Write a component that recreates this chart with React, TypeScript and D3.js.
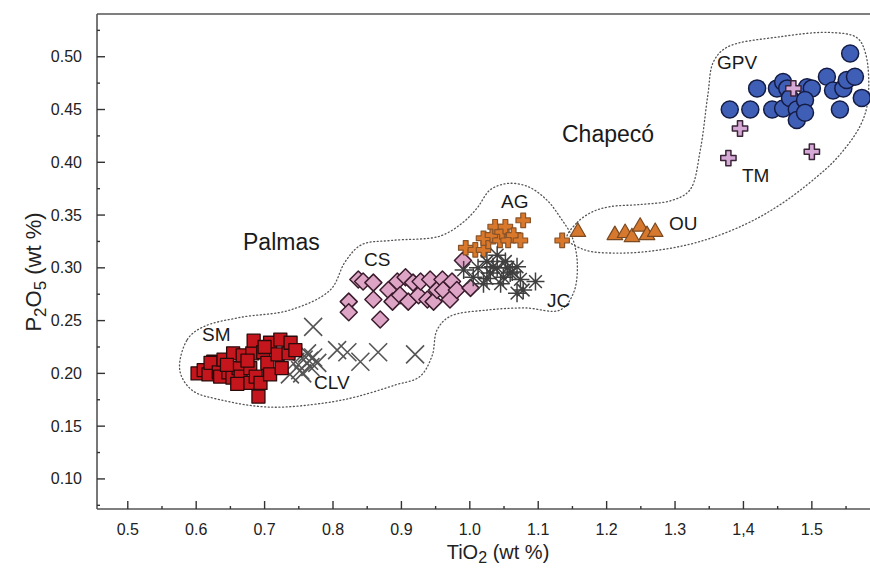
import React from 'react';
import * as d3 from 'd3';

// TiO2 vs P2O5 — Palmas / Chapecó groups
const smTi = [0.602, 0.611, 0.618, 0.625, 0.621, 0.633, 0.635, 0.640, 0.647, 0.653, 0.654, 0.662, 0.665, 0.668, 0.679, 0.679, 0.682, 0.684, 0.687, 0.691, 0.694, 0.698, 0.704, 0.708, 0.708, 0.719, 0.723, 0.735, 0.738, 0.645, 0.675, 0.660, 0.700, 0.725, 0.745];
const smP = [0.200, 0.203, 0.199, 0.211, 0.210, 0.201, 0.197, 0.213, 0.201, 0.196, 0.219, 0.205, 0.197, 0.217, 0.205, 0.191, 0.219, 0.231, 0.197, 0.178, 0.191, 0.220, 0.210, 0.229, 0.199, 0.218, 0.232, 0.219, 0.229, 0.208, 0.212, 0.190, 0.225, 0.205, 0.222];

const clvTi = [0.771, 0.806, 0.821, 0.840, 0.866, 0.920, 0.757, 0.767, 0.752, 0.737, 0.762, 0.771, 0.777, 0.745, 0.755, 0.765];
const clvP = [0.244, 0.222, 0.220, 0.211, 0.220, 0.218, 0.213, 0.206, 0.203, 0.199, 0.219, 0.215, 0.210, 0.211, 0.200, 0.212];

const csTi = [0.823, 0.823, 0.859, 0.869, 0.837, 0.844, 0.859, 0.881, 0.887, 0.894, 0.898, 0.906, 0.910, 0.917, 0.925, 0.928, 0.938, 0.942, 0.947, 0.952, 0.960, 0.961, 0.971, 0.974, 0.981, 0.990, 1.001];
const csP = [0.268, 0.258, 0.270, 0.251, 0.289, 0.287, 0.286, 0.279, 0.268, 0.287, 0.274, 0.291, 0.268, 0.286, 0.274, 0.287, 0.270, 0.289, 0.268, 0.279, 0.289, 0.279, 0.270, 0.287, 0.279, 0.307, 0.281];

const agTi = [0.994, 1.008, 1.020, 1.027, 1.020, 1.033, 1.037, 1.044, 1.047, 1.052, 1.056, 1.064, 1.074, 1.078, 1.135];
const agP = [0.319, 0.317, 0.317, 0.325, 0.328, 0.331, 0.339, 0.326, 0.334, 0.339, 0.326, 0.331, 0.326, 0.345, 0.326];

const jcTi = [0.991, 1.005, 1.012, 1.025, 1.025, 1.034, 1.040, 1.049, 1.052, 1.059, 1.062, 1.069, 1.074, 1.069, 1.078, 1.096, 1.045, 1.030, 1.055, 1.020, 1.040];
const jcP = [0.298, 0.291, 0.300, 0.306, 0.290, 0.301, 0.312, 0.291, 0.306, 0.295, 0.296, 0.301, 0.289, 0.276, 0.279, 0.287, 0.285, 0.295, 0.300, 0.285, 0.300];

const ouTi = [1.158, 1.212, 1.227, 1.237, 1.249, 1.259, 1.271];
const ouP = [0.334, 0.331, 0.333, 0.329, 0.339, 0.331, 0.334];

const gpvTi = [1.556, 1.420, 1.449, 1.458, 1.464, 1.493, 1.500, 1.522, 1.531, 1.546, 1.551, 1.563, 1.380, 1.410, 1.442, 1.458, 1.468, 1.478, 1.490, 1.478, 1.490, 1.541, 1.573];
const gpvP = [0.503, 0.470, 0.470, 0.476, 0.470, 0.471, 0.470, 0.481, 0.468, 0.470, 0.478, 0.481, 0.450, 0.450, 0.450, 0.451, 0.461, 0.450, 0.459, 0.440, 0.447, 0.450, 0.461];

const tmTi = [1.395, 1.378, 1.500, 1.473];
const tmP = [0.432, 0.404, 0.410, 0.470];

// dotted envelopes (data units)
const palmasEnvTi = [0.576, 0.587, 0.610, 0.664, 0.737, 0.796, 0.818, 0.842, 0.886, 0.956, 0.990, 1.011, 1.030, 1.056, 1.085, 1.113, 1.133, 1.149, 1.157, 1.152, 1.132, 1.081, 1.025, 0.971, 0.952, 0.945, 0.927, 0.891, 0.835, 0.788, 0.708, 0.635, 0.594];
const palmasEnvP = [0.203, 0.232, 0.244, 0.253, 0.260, 0.279, 0.306, 0.322, 0.326, 0.330, 0.343, 0.357, 0.374, 0.380, 0.377, 0.364, 0.347, 0.330, 0.306, 0.277, 0.260, 0.262, 0.260, 0.254, 0.241, 0.217, 0.197, 0.189, 0.178, 0.172, 0.168, 0.175, 0.184];
const chapecoEnvTi = [1.142, 1.157, 1.179, 1.205, 1.249, 1.296, 1.322, 1.337, 1.348, 1.356, 1.376, 1.454, 1.527, 1.566, 1.579, 1.582, 1.571, 1.538, 1.505, 1.454, 1.402, 1.337, 1.278, 1.220, 1.168];
const chapecoEnvP = [0.328, 0.343, 0.353, 0.358, 0.360, 0.364, 0.374, 0.412, 0.464, 0.495, 0.509, 0.519, 0.523, 0.518, 0.502, 0.459, 0.435, 0.405, 0.385, 0.360, 0.341, 0.325, 0.317, 0.314, 0.317];

const xTicks = [0.5, 0.6, 0.7, 0.8, 0.9, 1.0, 1.1, 1.2, 1.3, 1.4, 1.5];
const xTickLabels = ['0.5', '0.6', '0.7', '0.8', '0.9', '1.0', '1.1', '1.2', '1.3', '1,4', '1.5'];
const xMinor = [0.55, 0.65, 0.75, 0.85, 0.95, 1.05, 1.15, 1.25, 1.35, 1.45, 1.55];
const yTicks = [0.10, 0.15, 0.20, 0.25, 0.30, 0.35, 0.40, 0.45, 0.50];
const yMinor = [0.075, 0.125, 0.175, 0.225, 0.275, 0.325, 0.375, 0.425, 0.475, 0.525];

const W = 870;
const H = 569;
const left = 97;
const top = 14;
const bottom = 509;
const font = 'Arial, "Liberation Sans", sans-serif';

const x = d3.scaleLinear().domain([0.455, 1.585]).range([left, W]);
const y = d3.scaleLinear().domain([0.0715, 0.5405]).range([bottom, top]);

const zip = (a: number[], b: number[]) => a.map((v, i) => [v, b[i]] as [number, number]);

const squarePath = (s: number) => `M${-s},${-s}h${2 * s}v${2 * s}h${-2 * s}Z`;
const diamondPath = (s: number) => `M0,${-s}L${s},0L0,${s}L${-s},0Z`;
const timesPath = (s: number) => `M${-s},${-s}L${s},${s}M${-s},${s}L${s},${-s}`;
const asteriskPath = (s: number) => {
  const d = s * 0.707;
  return `M0,${-s}V${s}M${-s},0H${s}M${-d},${-d}L${d},${d}M${-d},${d}L${d},${-d}`;
};
const crossPath = d3.symbol(d3.symbolCross, 130)() as string;
const crossSmall = d3.symbol(d3.symbolCross, 115)() as string;
const trianglePath = d3.symbol(d3.symbolTriangle, 105)() as string;

const envLine = d3
  .line<[number, number]>()
  .x(d => x(d[0]))
  .y(d => y(d[1]))
  .curve(d3.curveCatmullRomClosed.alpha(0.5));

const Marks = ({ pts, d, fill, stroke, sw }: { pts: [number, number][]; d: string; fill: string; stroke: string; sw: number }) => (
  <g>
    {pts.map((p, i) => (
      <path key={i} d={d} transform={`translate(${x(p[0])},${y(p[1])})`} fill={fill} stroke={stroke} strokeWidth={sw} strokeLinejoin="round" />
    ))}
  </g>
);

const Label = ({ tx, ty, text, size = 19 }: { tx: number; ty: number; text: string; size?: number }) => (
  <text x={tx} y={ty} fontSize={size} fontFamily={font} fill="#1a1a1a">
    {text}
  </text>
);

export default function App() {
  return (
    <div>
      <style>{`body{margin:0}`}</style>
      <svg width={W} height={H} style={{ display: 'block', background: '#fff' }}>
        {/* envelopes */}
        <path d={envLine(zip(palmasEnvTi, palmasEnvP)) as string} fill="none" stroke="#555" strokeWidth={1.3} strokeDasharray="1 2.6" strokeLinecap="round" />
        <path d={envLine(zip(chapecoEnvTi, chapecoEnvP)) as string} fill="none" stroke="#555" strokeWidth={1.3} strokeDasharray="1 2.6" strokeLinecap="round" />

        {/* points */}
        <Marks pts={zip(clvTi, clvP)} d={timesPath(9)} fill="none" stroke="#555" sw={1.6} />
        <Marks pts={zip(smTi, smP)} d={squarePath(6.5)} fill="#c4161c" stroke="#2a0a0a" sw={1.3} />
        <Marks pts={zip(csTi, csP)} d={diamondPath(8.5)} fill="#dea4c6" stroke="#3a1c2c" sw={1.5} />
        <Marks pts={zip(agTi, agP)} d={crossSmall} fill="#d9772b" stroke="#8a5428" sw={1.2} />
        <Marks pts={zip(jcTi, jcP)} d={asteriskPath(9)} fill="none" stroke="#3f3f3f" sw={1.5} />
        <Marks pts={zip(ouTi, ouP)} d={trianglePath} fill="#d6782e" stroke="#7a4a22" sw={1.2} />
        <Marks pts={zip(gpvTi, gpvP)} d="M8.5,0A8.5,8.5,0,1,1,-8.5,0A8.5,8.5,0,1,1,8.5,0Z" fill="#3f5fb7" stroke="#141c45" sw={1.5} />
        <Marks pts={zip(tmTi, tmP)} d={crossPath} fill="#d6a8d6" stroke="#3a2638" sw={1.5} />

        {/* group labels */}
        <Label tx={243} ty={250} text="Palmas" size={23} />
        <Label tx={562} ty={142} text="Chapecó" size={23} />
        <Label tx={202} ty={341} text="SM" />
        <Label tx={314} ty={389} text="CLV" />
        <Label tx={364} ty={266} text="CS" />
        <Label tx={501} ty={208} text="AG" />
        <Label tx={547} ty={307} text="JC" />
        <Label tx={669} ty={230} text="OU" />
        <Label tx={717} ty={69} text="GPV" />
        <Label tx={742} ty={182} text="TM" />

        {/* frame */}
        <g stroke="#555" strokeWidth={1.6} fill="none">
          <line x1={left} y1={top} x2={W} y2={top} />
          <line x1={left} y1={top} x2={left} y2={bottom} />
          <line x1={left} y1={bottom} x2={W} y2={bottom} />
        </g>

        {/* ticks, pointing inward */}
        <g stroke="#333" strokeWidth={1.4}>
          {xTicks.map(t => (
            <line key={'xt' + t} x1={x(t)} x2={x(t)} y1={bottom} y2={bottom - 8} />
          ))}
          {xMinor.map(t => (
            <line key={'xm' + t} x1={x(t)} x2={x(t)} y1={bottom} y2={bottom - 3} />
          ))}
          {yTicks.map(t => (
            <line key={'yt' + t} x1={left} x2={left + 8} y1={y(t)} y2={y(t)} />
          ))}
          {yMinor.map(t => (
            <line key={'ym' + t} x1={left} x2={left + 3} y1={y(t)} y2={y(t)} />
          ))}
        </g>
        {xTicks.map((t, i) => (
          <text key={'xl' + t} x={x(t)} y={535} textAnchor="middle" fontSize={16} fontFamily={font} fill="#222">
            {xTickLabels[i]}
          </text>
        ))}
        {yTicks.map(t => (
          <text key={'yl' + t} x={82} y={y(t) + 5.5} textAnchor="end" fontSize={16} fontFamily={font} fill="#222">
            {d3.format('.2f')(t)}
          </text>
        ))}

        {/* axis titles */}
        <text x={498} y={559} textAnchor="middle" fontSize={20} fontFamily={font} fill="#222">
          TiO<tspan dy={4} fontSize={16}>2</tspan>
          <tspan dy={-4}> (wt %)</tspan>
        </text>
        <text transform="translate(41,272) rotate(-90)" textAnchor="middle" fontSize={22} fontFamily={font} fill="#222">
          P<tspan dy={5} fontSize={17}>2</tspan>
          <tspan dy={-5}>O</tspan>
          <tspan dy={5} fontSize={17}>5</tspan>
          <tspan dy={-5}> (wt %)</tspan>
        </text>
      </svg>
    </div>
  );
}
